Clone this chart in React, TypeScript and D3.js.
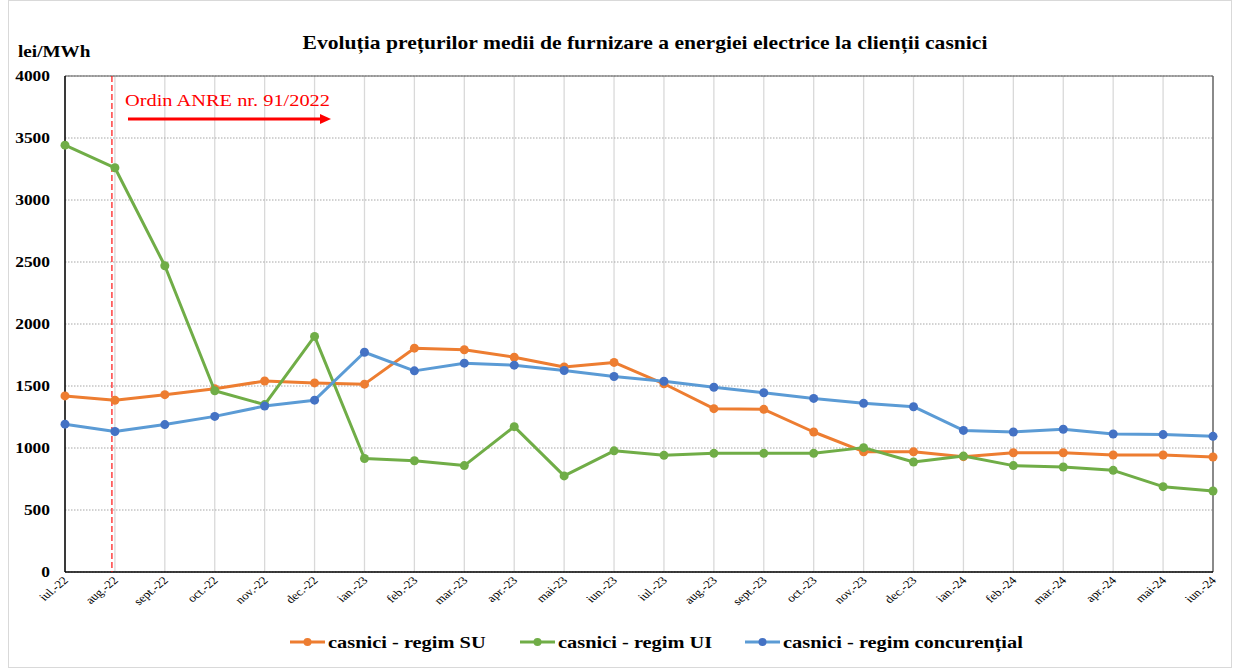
import React from 'react';
import * as d3 from 'd3';

const months = [
    'iul.-22', 'aug.-22', 'sept.-22', 'oct.-22', 'nov.-22', 'dec.-22',
    'ian.-23', 'feb.-23', 'mar.-23', 'apr.-23', 'mai-23', 'iun.-23',
    'iul.-23', 'aug.-23', 'sept.-23', 'oct.-23', 'nov.-23', 'dec.-23',
    'ian.-24', 'feb.-24', 'mar.-24', 'apr.-24', 'mai-24', 'iun.-24'
];

const regimSU = [
    1420, 1385, 1430, 1478, 1540, 1525, 1515, 1805, 1792, 1732, 1653, 1690,
    1518, 1317, 1312, 1129, 970, 970, 930, 962, 962, 944, 944, 927
];
const regimUI = [
    3442, 3260, 2470, 1462, 1350, 1900, 915, 897, 858, 1172, 775, 977,
    941, 957, 957, 957, 1003, 887, 935, 858, 847, 820, 688, 653
];
const regimConc = [
    1192, 1133, 1189, 1255, 1338, 1386, 1772, 1622, 1684, 1668, 1625, 1577,
    1538, 1490, 1446, 1400, 1360, 1333, 1142, 1129, 1151, 1113, 1108, 1094
];

const yTicks = [0, 500, 1000, 1500, 2000, 2500, 3000, 3500, 4000];

const seriesNames = ['casnici - regim SU', 'casnici - regim UI', 'casnici - regim concurențial'];

const W = 1233, H = 671;
const margin = { top: 76, right: 20, bottom: 99, left: 65 };
const font = 'Liberation Serif, Tinos, DejaVu Serif, serif';
// the source picture is stretched a bit wider than tall, text follows that
const SX = 1.2;

const series = [
    { name: seriesNames[0], values: regimSU, line: '#ED7D31', dot: '#ED7D31' },
    { name: seriesNames[1], values: regimUI, line: '#70AD47', dot: '#70AD47' },
    { name: seriesNames[2], values: regimConc, line: '#5B9BD5', dot: '#4472C4' }
];

const T = ({ x, y, size, bold, anchor, fill, rotate, children }: any) => (
    <text
        transform={`translate(${x},${y}) scale(${SX},1)` + (rotate ? ` rotate(${rotate})` : '')}
        fontSize={size} fontWeight={bold ? 'bold' : 'normal'} fontFamily={font}
        textAnchor={anchor || 'start'} fill={fill || '#000'}>
        {children}
    </text>
);

const App = () => {
    const x = d3.scalePoint<string>()
        .domain(months)
        .range([margin.left, W - margin.right]);
    const y = d3.scaleLinear()
        .domain([0, 4000])
        .range([H - margin.bottom, margin.top]);

    const line = d3.line<number>()
        .x((d, i) => x(months[i]) as number)
        .y(d => y(d));

    const x0 = margin.left, x1 = W - margin.right;
    const yBottom = y(0), yTop = y(4000);
    // order line sits just before the aug.-22 category
    const orderX = (x(months[1]) as number) - 3;

    const legendX = [290, 520, 745];

    return (
        <div style={{ position: 'absolute', left: 0, top: 0 }}>
            <svg width={W} height={H} fontFamily={font} style={{ display: 'block' }}>
                <rect x={0} y={0} width={W} height={H} fill="#fff" />
                <rect x={8.5} y={0.5} width={W - 10} height={H - 4} fill="none" stroke="#d9d9d9" />

                <T x={645} y={49} size={18} bold anchor="middle">
                    Evoluția prețurilor medii de furnizare a energiei electrice la clienții casnici
                </T>
                <T x={18} y={57} size={16} bold>lei/MWh</T>

                {/* vertical grid */}
                {months.map((m, i) => (
                    <line key={'v' + i} x1={x(m)} x2={x(m)} y1={yTop} y2={yBottom}
                        stroke="#d9d9d9" strokeWidth={1.3} />
                ))}
                {/* horizontal grid */}
                {yTicks.map(t => (
                    <line key={'h' + t} x1={x0} x2={x1} y1={y(t)} y2={y(t)}
                        stroke="#a6a6a6" strokeWidth={1} strokeDasharray="1.5,1.5" />
                ))}
                {yTicks.map(t => (
                    <T key={'yl' + t} x={50} y={y(t) + 5} size={14.5} bold anchor="end">{t}</T>
                ))}

                {/* frame */}
                <line x1={x0} x2={x1} y1={yTop} y2={yTop} stroke="#595959" strokeWidth={1} />
                <line x1={x1} x2={x1} y1={yTop} y2={yBottom} stroke="#595959" strokeWidth={1.3} />
                <line x1={x0} x2={x0} y1={yTop} y2={yBottom} stroke="#000" strokeWidth={1.5} />
                <line x1={x0} x2={x1} y1={yBottom} y2={yBottom} stroke="#000" strokeWidth={1.5} />

                {months.map((m, i) => (
                    <T key={'xl' + i} x={(x(m) as number) + 4} y={yBottom + 9} size={11} anchor="end" rotate={-45}>
                        {m}
                    </T>
                ))}

                {/* Ordin ANRE marker */}
                <line x1={orderX} x2={orderX} y1={yTop} y2={yBottom} stroke="#ff0000"
                    strokeWidth={1.5} strokeDasharray="6,3" opacity={0.75} />
                <T x={125} y={106} size={17} fill="#ff0000">Ordin ANRE nr. 91/2022</T>
                <line x1={128} x2={322} y1={119} y2={119} stroke="#ff0000" strokeWidth={3} />
                <path d="M320,114 L331,119 L320,124 Z" fill="#ff0000" />

                {series.map(s => (
                    <g key={s.name}>
                        <path d={line(s.values) as string} fill="none" stroke={s.line}
                            strokeWidth={3} strokeLinejoin="round" />
                        {s.values.map((v, i) => (
                            <circle key={i} cx={x(months[i])} cy={y(v)} r={4.5} fill={s.dot} />
                        ))}
                    </g>
                ))}

                {/* legend */}
                {series.map((s, i) => (
                    <g key={'lg' + i} transform={`translate(${legendX[i]},642)`}>
                        <line x1={0} x2={35} y1={0} y2={0} stroke={s.line} strokeWidth={3} />
                        <circle cx={17.5} cy={0} r={4} fill={s.dot} />
                        <T x={38} y={5.5} size={17} bold>{s.name}</T>
                    </g>
                ))}
            </svg>
        </div>
    );
};

export default App;
